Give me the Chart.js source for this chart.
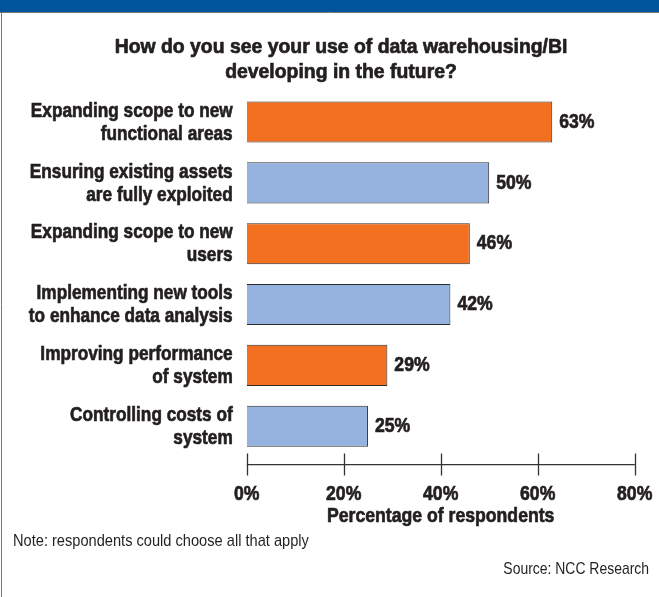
<!DOCTYPE html>
<html>
<head>
<meta charset="utf-8">
<script src="https://cdn.jsdelivr.net/npm/chart.js@4.4.1/dist/chart.umd.min.js"></script>
<style>
  html, body { margin: 0; padding: 0; background: #fff; }
  canvas { display: block; }
</style>
</head>
<body>
<canvas id="chart" width="659" height="597"></canvas>
<script>
// survey answers, top to bottom
const categories = [
  ['Expanding scope to new', 'functional areas'],
  ['Ensuring existing assets', 'are fully exploited'],
  ['Expanding scope to new', 'users'],
  ['Implementing new tools', 'to enhance data analysis'],
  ['Improving performance', 'of system'],
  ['Controlling costs of', 'system']
];
const values = [63, 50, 46, 42, 29, 25];
const xTicks = [0, 20, 40, 60, 80];

const titleLines = ['How do you see your use of data warehousing/BI', 'developing in the future?'];
const axisTitle = 'Percentage of respondents';
const note = 'Note: respondents could choose all that apply';
const source = 'Source: NCC Research';

const FONT = '"Liberation Sans", Arial, Helvetica, sans-serif';
const INK = '#231f20';
const ORANGE = '#f37021';
const BLUE = '#95b3de';

// draw a line of text squeezed horizontally around its anchor;
// bold text gets a hairline stroke so it reads as a heavy condensed face
function narrowText(c, text, x, y, size, bold, align, squeeze) {
  c.save();
  c.font = (bold ? 'bold ' : '') + size + 'px ' + FONT;
  c.textAlign = align;
  c.textBaseline = 'middle';
  c.fillStyle = INK;
  c.translate(x, y);
  c.scale(squeeze, 1);
  c.fillText(text, 0, 0);
  if (bold) {
    c.strokeStyle = INK;
    c.lineWidth = 0.7;
    c.lineJoin = 'round';
    c.strokeText(text, 0, 0);
  }
  c.restore();
}

// frame: blue strip on top, grey rule on the left
const framePlugin = {
  id: 'frame',
  beforeDraw(chart) {
    const c = chart.ctx;
    c.save();
    c.fillStyle = '#fff';
    c.fillRect(0, 0, chart.width, chart.height);
    c.fillStyle = '#00549a';
    c.fillRect(0, 0, chart.width, 12);
    c.strokeStyle = '#777';
    c.lineWidth = 1;
    c.beginPath();
    c.moveTo(0, 12.5); c.lineTo(chart.width, 12.5);
    c.moveTo(1.5, 12); c.lineTo(1.5, chart.height);
    c.stroke();
    c.restore();
  }
};

// all text plus the axis line with crossing ticks
const decorPlugin = {
  id: 'decor',
  afterDraw(chart) {
    const c = chart.ctx;
    const x = chart.scales.x;
    const y = chart.scales.y;
    const area = chart.chartArea;

    titleLines.forEach((t, i) => narrowText(c, t, 341, 47 + i * 25, 20, true, 'center', 0.97));

    categories.forEach((lines, i) => {
      const cy = y.getPixelForValue(i);
      narrowText(c, lines[0], area.left - 14, cy - 11, 21, true, 'right', 0.82);
      narrowText(c, lines[1], area.left - 14, cy + 12, 21, true, 'right', 0.82);
    });

    chart.getDatasetMeta(0).data.forEach((bar, i) => {
      narrowText(c, values[i] + '%', bar.x + 7, bar.y, 21, true, 'left', 0.84);
    });

    const axisY = area.bottom + 8;
    c.save();
    c.strokeStyle = '#333';
    c.lineWidth = 1.3;
    c.beginPath();
    c.moveTo(x.getPixelForValue(xTicks[0]), axisY);
    c.lineTo(x.getPixelForValue(xTicks[xTicks.length - 1]), axisY);
    xTicks.forEach(v => {
      const px = Math.round(x.getPixelForValue(v)) + 0.5;
      c.moveTo(px, axisY - 11);
      c.lineTo(px, axisY + 11);
    });
    c.stroke();
    c.restore();

    xTicks.forEach(v => narrowText(c, v + '%', x.getPixelForValue(v), 494, 21, true, 'center', 0.84));
    narrowText(c, axisTitle, (area.left + area.right) / 2, 516, 21, true, 'center', 0.84);

    narrowText(c, note, 13, 541, 17, false, 'left', 0.86);
    narrowText(c, source, 649, 569, 17, false, 'right', 0.82);
  }
};

new Chart(document.getElementById('chart').getContext('2d'), {
  type: 'bar',
  data: {
    labels: categories,
    datasets: [{
      data: values,
      backgroundColor: ctx => (ctx.dataIndex % 2 ? BLUE : ORANGE),
      borderColor: '#2b2b2b',
      borderWidth: 1,
      barPercentage: 0.675,
      categoryPercentage: 1
    }]
  },
  options: {
    indexAxis: 'y',
    responsive: false,
    animation: false,
    layout: { padding: { top: 91.6, right: 24.3, bottom: 0, left: 0 } },
    plugins: {
      legend: { display: false },
      tooltip: { enabled: false },
      title: { display: false }
    },
    scales: {
      x: {
        min: 0,
        max: 80,
        afterBuildTicks: s => { s.ticks = xTicks.map(v => ({ value: v })); },
        afterFit: s => { s.height = 140.4; s.paddingLeft = 0; s.paddingRight = 0; },
        grid: { display: false, drawTicks: false },
        border: { display: false },
        ticks: { display: false }
      },
      y: {
        afterFit: s => { s.width = 246.7; s.paddingTop = 0; s.paddingBottom = 0; },
        grid: { display: false, drawTicks: false },
        border: { display: false },
        ticks: { display: false }
      }
    }
  },
  plugins: [framePlugin, decorPlugin]
});
</script>
</body>
</html>
